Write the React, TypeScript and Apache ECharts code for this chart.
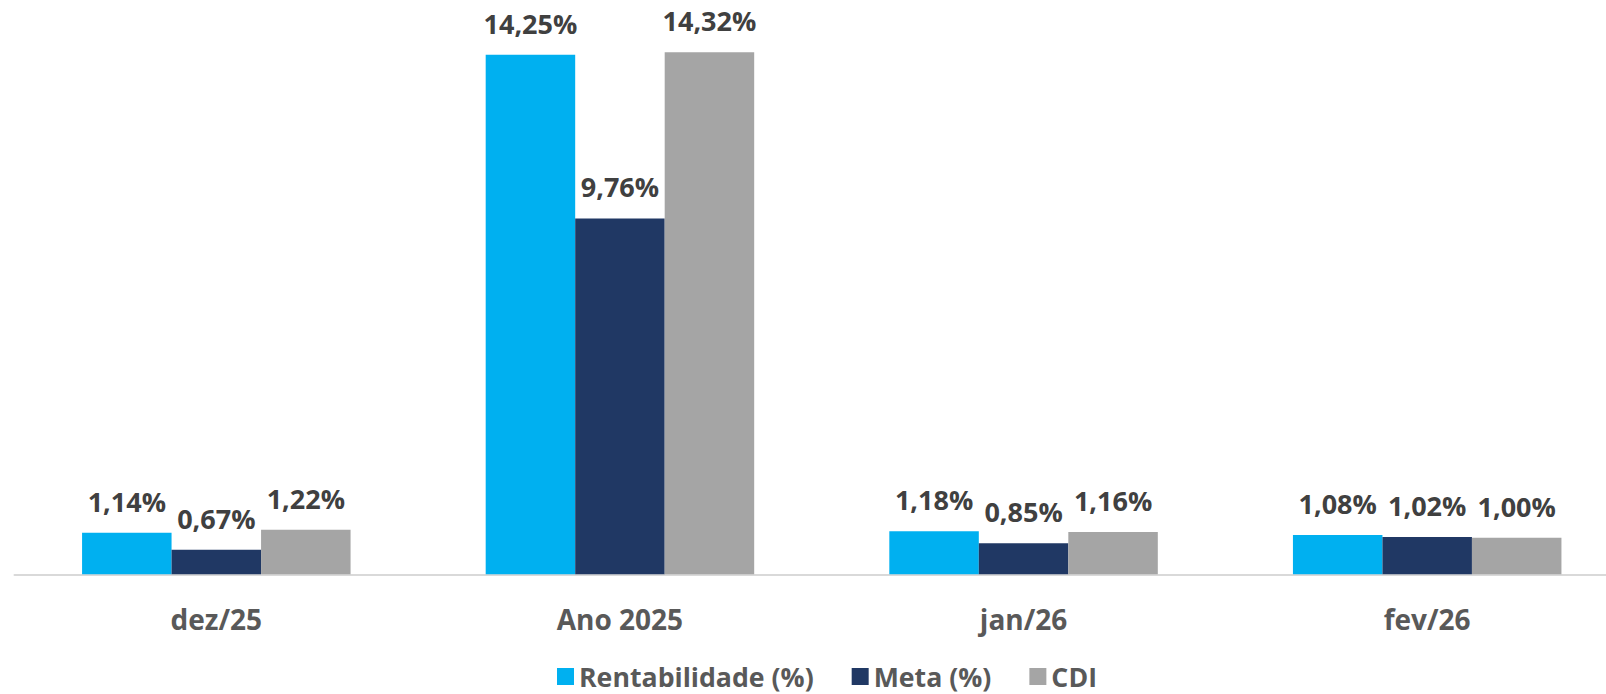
import React, { useEffect, useRef } from "react";
import * as echarts from "echarts";

const categories = ["dez/25", "Ano 2025", "jan/26", "fev/26"];
const rentabilidade = [1.14, 14.25, 1.18, 1.08];
const meta = [0.67, 9.76, 0.85, 1.02];
const cdi = [1.22, 14.32, 1.16, 1.0];
const seriesNames = ["Rentabilidade (%)", "Meta (%)", "CDI"];
const colors = ["#00B0F0", "#203864", "#A5A5A5"];

const FONT = "'Open Sans', sans-serif";

export default function App() {
  const ref = useRef<HTMLDivElement>(null);
  useEffect(() => {
    document.body.style.margin = "0";
    if (!ref.current) return;
    const chart = echarts.init(ref.current, undefined, { renderer: "svg" });
    const fmt = (p: any) => Number(p.value).toFixed(2).replace(".", ",") + "%";
    const mk = (name: string, data: number[], color: string) => ({
      name,
      type: "bar",
      data,
      barWidth: 89.5,
      barGap: "0%",
      itemStyle: { color },
      label: {
        show: true,
        position: "top",
        distance: 18,
        formatter: fmt,
        color: "#404040",
        fontFamily: FONT,
        fontWeight: "bold",
        fontSize: 27,
      },
    });
    chart.setOption({
      animation: false,
      backgroundColor: "#ffffff",
      grid: { left: 14.5, width: 1614.5, top: 0, height: 574.3, containLabel: false },
      legend: {
        data: seriesNames,
        left: 552,
        top: 658,
        itemWidth: 17,
        itemHeight: 17,
        itemGap: 38,
        icon: "rect",
        textStyle: {
          color: "#595959",
          fontFamily: FONT,
          fontWeight: "bold",
          fontSize: 26.7,
          padding: [0, 0, 0, 0],
        },
      },
      xAxis: {
        type: "category",
        data: categories,
        axisLine: { show: true, lineStyle: { color: "#D9D9D9", width: 2 } },
        axisTick: { show: false },
        axisLabel: {
          color: "#595959",
          fontFamily: FONT,
          fontWeight: "bold",
          fontSize: 28,
          margin: 31,
        },
      },
      yAxis: { type: "value", show: false, min: 0, max: 15.75, splitLine: { show: false } },
      series: [
        mk(seriesNames[0], rentabilidade, colors[0]),
        mk(seriesNames[1], meta, colors[1]),
        mk(seriesNames[2], cdi, colors[2]),
      ],
    });
    return () => chart.dispose();
  }, []);
  return (
    <div style={{ width: 1606, height: 694, overflow: "hidden", position: "relative" }}>
      <div ref={ref} style={{ width: 1640, height: 694 }} />
    </div>
  );
}
